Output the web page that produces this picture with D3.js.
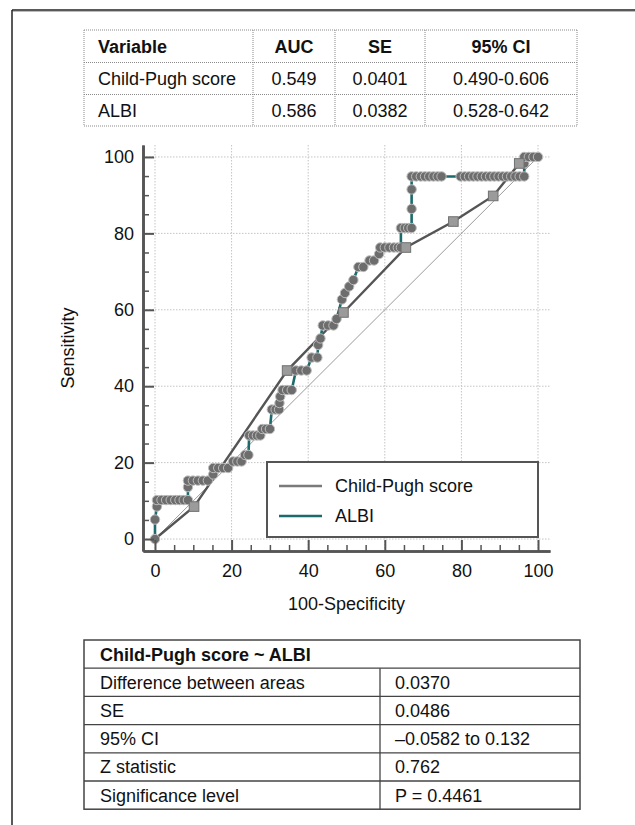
<!DOCTYPE html>
<html>
<head>
<meta charset="utf-8">
<script src="https://cdn.jsdelivr.net/npm/d3@7"></script>
<style>
  html, body { margin: 0; padding: 0; background: #fff; }
  svg { display: block; font-family: "Liberation Sans", Arial, Helvetica, sans-serif; }
</style>
</head>
<body>
<svg id="chart" width="635" height="825"></svg>
<script>
// ---------------- data ----------------
const tableHeader = ["Variable", "AUC", "SE", "95% CI"];
const tableVariables = ["Child-Pugh score", "ALBI"];
const tableAUC = ["0.549", "0.586"];
const tableSE = ["0.0401", "0.0382"];
const tableCI = ["0.490-0.606", "0.528-0.642"];

const compTitle = "Child-Pugh score ~ ALBI";
const compLabels = ["Difference between areas", "SE", "95% CI", "Z statistic", "Significance level"];
const compValues = ["0.0370", "0.0486", "\u20130.0582 to 0.132", "0.762", "P = 0.4461"];

const majorTicks = [0, 20, 40, 60, 80, 100];
const minorTicks = [5, 10, 15, 25, 30, 35, 45, 50, 55, 65, 70, 75, 85, 90, 95];

const seriesNames = ["Child-Pugh score", "ALBI"];

// Child-Pugh score ROC points (100-Specificity, Sensitivity)
const cpX = [0, 10.2, 34.5, 49.2, 65.5, 77.9, 88.3, 95.1, 100];
const cpY = [0, 8.5, 44.1, 59.3, 76.3, 83.1, 89.8, 98.3, 100];

// ALBI ROC points (100-Specificity, Sensitivity)
const albiX = [0, 0, 0.5, 0.5, 1.7, 2.9, 4.1, 5.3, 6.4, 7.5, 8.6, 8.6, 8.6, 9.9, 11.2, 12.5, 13.8,
  15.2, 15.2, 16.5, 17.8, 19.1, 20.4, 21.5, 22.6, 23.5, 24.4, 24.6, 25.6, 26.6, 27.5,
  28.0, 29.0, 30.0, 30.5, 31.5, 32.4, 32.5, 32.7, 33.3, 34.5, 35.7, 36.8, 38.2, 39.6,
  40.9, 42.4, 42.6, 43.2, 43.8, 45.2, 46.6, 47.4, 48.8, 49.6, 50.7, 51.8, 53.1, 54.4,
  56.0, 57.2, 58.5, 58.8, 60.0, 61.2, 62.4, 63.4, 64.2, 64.2, 65.2, 66.1, 67.0, 67.0,
  67.0, 67.0, 68.2, 69.4, 70.5, 71.6, 72.7, 73.8, 74.8, 79.8, 80.9, 82.0, 83.1, 84.2,
  85.3, 86.4, 87.5, 88.6, 89.7, 90.8, 91.9, 93.0, 94.1, 95.2, 96.4, 96.4, 96.4, 97.6,
  98.8, 100];
const albiY = [0, 5.1, 8.5, 10.2, 10.2, 10.2, 10.2, 10.2, 10.2, 10.2, 10.2, 13.6, 15.3, 15.3, 15.3, 15.3, 15.3,
  16.9, 18.6, 18.6, 18.6, 18.6, 20.3, 20.3, 20.3, 22.0, 22.0, 27.1, 27.1, 27.1, 27.1,
  28.8, 28.8, 28.8, 33.9, 33.9, 33.9, 35.6, 37.3, 39.0, 39.0, 39.0, 44.1, 44.1, 44.1,
  47.5, 47.5, 50.8, 52.5, 55.9, 55.9, 55.9, 57.6, 62.7, 64.4, 66.1, 67.8, 71.2, 71.2,
  72.9, 72.9, 74.6, 76.3, 76.3, 76.3, 76.3, 76.3, 76.3, 81.4, 81.4, 81.4, 81.4, 86.4,
  91.5, 94.9, 94.9, 94.9, 94.9, 94.9, 94.9, 94.9, 94.9, 94.9, 94.9, 94.9, 94.9, 94.9,
  94.9, 94.9, 94.9, 94.9, 94.9, 94.9, 94.9, 94.9, 94.9, 94.9, 94.9, 98.3, 100, 100,
  100, 100];

// ---------------- drawing ----------------
const svg = d3.select("#chart");
const FONT = 18;

// outer frame (top and left edges)
svg.append("line").attr("x1", 12).attr("y1", 10).attr("x2", 635).attr("y2", 10)
  .attr("stroke", "#222").attr("stroke-width", 1.5);
svg.append("line").attr("x1", 12.5).attr("y1", 11.5).attr("x2", 635).attr("y2", 11.5)
  .attr("stroke", "#bbb").attr("stroke-width", 1);
svg.append("line").attr("x1", 12).attr("y1", 10).attr("x2", 12).attr("y2", 825)
  .attr("stroke", "#222").attr("stroke-width", 1.5);

// ---------- top table ----------
const tCols = [84, 253, 335, 425, 577];
const tRows = [30, 62.5, 94.5, 126];
const tb = svg.append("g");
const dotted = sel => sel.attr("stroke", "#8a8a8a").attr("stroke-width", 1).attr("stroke-dasharray", "1,1");
tRows.forEach(yy => tb.append("line").attr("x1", tCols[0]).attr("x2", tCols[4]).attr("y1", yy).attr("y2", yy).call(dotted));
tCols.forEach(xx => tb.append("line").attr("x1", xx).attr("x2", xx).attr("y1", tRows[0]).attr("y2", tRows[3]).call(dotted));
const colCenter = i => (tCols[i] + tCols[i + 1]) / 2;
const rowMid = i => (tRows[i] + tRows[i + 1]) / 2;
tableHeader.forEach((h, i) => {
  tb.append("text").attr("x", i === 0 ? 98 : colCenter(i)).attr("y", rowMid(0)).attr("dy", "0.36em")
    .attr("text-anchor", i === 0 ? "start" : "middle").attr("font-weight", "bold")
    .attr("font-size", FONT).attr("fill", "#111").text(h);
});
tableVariables.forEach((v, r) => {
  const cells = [v, tableAUC[r], tableSE[r], tableCI[r]];
  cells.forEach((c, i) => {
    tb.append("text").attr("x", i === 0 ? 98 : colCenter(i)).attr("y", rowMid(r + 1)).attr("dy", "0.36em")
      .attr("text-anchor", i === 0 ? "start" : "middle")
      .attr("font-size", FONT).attr("fill", "#111").text(c);
  });
});

// ---------- ROC plot ----------
const x = d3.scaleLinear().domain([-3.13, 103.13]).range([143, 550]);
const y = d3.scaleLinear().domain([-3.13, 103.13]).range([551, 145]);

const plot = svg.append("g");

// gridlines
const grid = plot.append("g");
majorTicks.forEach(t => {
  grid.append("line").attr("x1", x(t)).attr("x2", x(t)).attr("y1", y.range()[1]).attr("y2", y.range()[0])
    .attr("stroke", "#c4c4c4").attr("stroke-width", 1).attr("stroke-dasharray", "1.5,1.5");
  grid.append("line").attr("y1", y(t)).attr("y2", y(t)).attr("x1", x.range()[0]).attr("x2", x.range()[1])
    .attr("stroke", "#c4c4c4").attr("stroke-width", 1).attr("stroke-dasharray", "1.5,1.5");
});

// diagonal reference
plot.append("line").attr("x1", x(0)).attr("y1", y(0)).attr("x2", x(100)).attr("y2", y(100))
  .attr("stroke", "#9a9a9a").attr("stroke-width", 1);

const cpData = cpX.map((v, i) => [v, cpY[i]]);
const albiData = albiX.map((v, i) => [v, albiY[i]]);
const lineGen = d3.line().x(d => x(d[0])).y(d => y(d[1]));

plot.append("path").datum(cpData).attr("d", lineGen)
  .attr("fill", "none").attr("stroke", "#555").attr("stroke-width", 2.4);
plot.append("path").datum(albiData).attr("d", lineGen)
  .attr("fill", "none").attr("stroke", "#1d6a6c").attr("stroke-width", 2.6);

plot.append("g").selectAll("circle").data(albiData).join("circle")
  .attr("cx", d => x(d[0])).attr("cy", d => y(d[1])).attr("r", 4.7)
  .attr("fill", "#6d6d6d").attr("stroke", "#bdbdbd").attr("stroke-width", 1);

plot.append("g").selectAll("rect").data(cpData.slice(1, -1)).join("rect")
  .attr("x", d => x(d[0]) - 4.8).attr("y", d => y(d[1]) - 4.8).attr("width", 9.6).attr("height", 9.6)
  .attr("fill", "#9b9b9b").attr("stroke", "#707070").attr("stroke-width", 1);

// axes
const axisColor = "#555";
const xAxisG = plot.append("g").attr("transform", `translate(0,${y.range()[0]})`);
xAxisG.call(d3.axisBottom(x).tickValues(minorTicks).tickSize(-6).tickSizeOuter(0).tickFormat(""));
const xAxisMajor = plot.append("g").attr("transform", `translate(0,${y.range()[0]})`)
  .call(d3.axisBottom(x).tickValues(majorTicks).tickSize(-11).tickSizeOuter(0).tickPadding(13));
const yAxisG = plot.append("g").attr("transform", `translate(${x.range()[0]},0)`);
yAxisG.call(d3.axisLeft(y).tickValues(minorTicks).tickSize(-6).tickSizeOuter(0).tickFormat(""));
const yAxisMajor = plot.append("g").attr("transform", `translate(${x.range()[0]},0)`)
  .call(d3.axisLeft(y).tickValues(majorTicks).tickSize(-11).tickSizeOuter(0).tickPadding(9));

[xAxisG, xAxisMajor, yAxisG, yAxisMajor].forEach(g => {
  g.selectAll("path.domain").attr("stroke", axisColor).attr("stroke-width", 2.6);
  g.selectAll(".tick line").attr("stroke", axisColor).attr("stroke-width", 2);
  g.selectAll(".tick text").attr("font-size", FONT).attr("fill", "#111")
    .attr("font-family", "'Liberation Sans', Arial, sans-serif");
});
[xAxisG, yAxisG].forEach(g => g.selectAll(".tick line").attr("stroke-width", 1.5));

// axis titles
plot.append("text").attr("x", (x(0) + x(100)) / 2).attr("y", 604).attr("dy", "0.36em")
  .attr("text-anchor", "middle").attr("font-size", FONT).attr("fill", "#111").text("100-Specificity");
plot.append("text").attr("transform", `translate(68,${(y(0) + y(100)) / 2}) rotate(-90)`)
  .attr("dy", "0.36em").attr("text-anchor", "middle").attr("font-size", FONT).attr("fill", "#111")
  .text("Sensitivity");

// legend
const lg = plot.append("g");
lg.append("rect").attr("x", 267).attr("y", 462).attr("width", 271).attr("height", 75)
  .attr("fill", "#fff").attr("stroke", "#555").attr("stroke-width", 2);
const legendColors = ["#7a7a7a", "#1d6a6c"];
seriesNames.forEach((n, i) => {
  const yy = 486 + i * 30;
  lg.append("line").attr("x1", 279).attr("x2", 322).attr("y1", yy).attr("y2", yy)
    .attr("stroke", legendColors[i]).attr("stroke-width", 2.6);
  lg.append("text").attr("x", 335).attr("y", yy).attr("dy", "0.36em")
    .attr("font-size", FONT).attr("fill", "#111").text(n);
});

// ---------- bottom comparison table ----------
const bL = 84, bR = 580, bMid = 380, bTop = 640, rowH = 28.2;
const bt = svg.append("g");
const nRows = compLabels.length + 1;
bt.append("rect").attr("x", bL).attr("y", bTop).attr("width", bR - bL).attr("height", rowH * nRows)
  .attr("fill", "none").attr("stroke", "#444").attr("stroke-width", 1.5);
for (let i = 1; i < nRows; i++) {
  bt.append("line").attr("x1", bL).attr("x2", bR).attr("y1", bTop + i * rowH).attr("y2", bTop + i * rowH)
    .attr("stroke", "#444").attr("stroke-width", 1.3);
}
bt.append("line").attr("x1", bMid).attr("x2", bMid).attr("y1", bTop + rowH).attr("y2", bTop + rowH * nRows)
  .attr("stroke", "#444").attr("stroke-width", 1.3);
bt.append("text").attr("x", 100).attr("y", bTop + rowH / 2).attr("dy", "0.36em")
  .attr("font-weight", "bold").attr("font-size", FONT).attr("fill", "#111").text(compTitle);
compLabels.forEach((l, i) => {
  const yy = bTop + rowH * (i + 1) + rowH / 2;
  bt.append("text").attr("x", 100).attr("y", yy).attr("dy", "0.36em")
    .attr("font-size", FONT).attr("fill", "#111").text(l);
  bt.append("text").attr("x", 395).attr("y", yy).attr("dy", "0.36em")
    .attr("font-size", FONT).attr("fill", "#111").text(compValues[i]);
});
</script>
</body>
</html>
